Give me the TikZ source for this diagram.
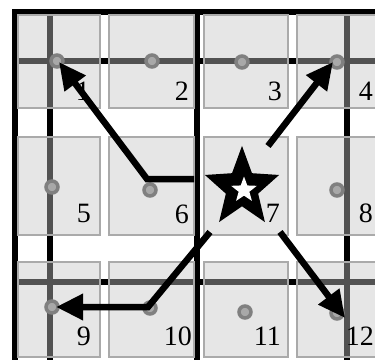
\documentclass[tikz,border=0pt]{standalone}
\usepackage{fontspec}
\setmainfont{Liberation Serif}
\usetikzlibrary{arrows.meta,shapes.geometric}
\definecolor{cellfill}{RGB}{197,197,197}
\definecolor{cellline}{RGB}{170,170,170}
\definecolor{dotgray}{RGB}{168,168,168}
\definecolor{dotring}{RGB}{128,128,128}
\begin{document}
\begin{tikzpicture}[x=1pt,y=-1pt,
  gridline/.style={line width=6pt, draw=black},
  cellbox/.style={fill=cellfill, fill opacity=0.42, draw=cellline, draw opacity=1, line width=1.5pt},
  dot/.style={circle, fill=dotgray, draw=dotring, line width=3.5pt, inner sep=0pt, minimum size=12pt},
  num/.style={font=\fontsize{28}{28}\selectfont, anchor=base east, inner sep=0pt},
  move/.style={line width=6.5pt, draw=black, -{Triangle[length=27pt,width=25pt]}},
]
\useasboundingbox (0,0) rectangle (375,359);
\clip (0,0) rectangle (375,359);
\fill[white] (0,0) rectangle (375,359);

% black guide lines (seen grey through the cells)
\draw[gridline] (12,12) -- (380,12);
\draw[gridline] (15,9) -- (15,365);
\draw[gridline] (50,12) -- (50,365);
\draw[gridline] (197,12) -- (197,365);
\draw[gridline] (347,12) -- (347,365);
\draw[gridline] (12,61) -- (380,61);
\draw[gridline] (12,282) -- (380,282);

% cells
\foreach \xa/\xb in {18/100, 109/194, 204/288, 297/390}{
  \foreach \ya/\yb in {15/108, 137/235, 262/357}{
    \path[cellbox] (\xa,\ya) rectangle (\xb,\yb);
  }
}

% dots
\node[dot] (d1) at (57,61) {};
\node[dot] (d2) at (152,61) {};
\node[dot] (d3) at (242,62) {};
\node[dot] (d4) at (337,62) {};
\node[dot] (d5) at (52,187) {};
\node[dot] (d6) at (150,190) {};
\node[dot] (d8) at (337,190) {};
\node[dot] (d9) at (52,307) {};
\node[dot] (d10) at (150,308) {};
\node[dot] (d11) at (245,312) {};
\node[dot] (d12) at (337,313) {};

% numbers
\node[num] (n1) at (90,100) {1};
\node[num] (n2) at (189,100) {2};
\node[num] (n3) at (282,100) {3};
\node[num] (n4) at (373,100) {4};
\node[num] (n5) at (91,222) {5};
\node[num] (n6) at (189,223) {6};
\node[num] (n7) at (280,222) {7};
\node[num] (n8) at (373,222) {8};
\node[num] (n9) at (91,345) {9};
\node[num] (n10) at (192,345) {10};
\node[num] (n11) at (281,345) {11};
\node[num] (n12) at (374,345) {12};

% agent star
\node[star, star points=5, star point ratio=2.3, fill=black, inner sep=0pt, minimum size=78pt, yscale=1.08, transform shape] (agent) at (242,188) {};
\node[star, star points=5, star point ratio=2.4, fill=white, inner sep=0pt, minimum size=27pt] (core) at (244,190) {};

% moves
\coordinate (s1) at (194,179);
\coordinate (k1) at (147,179);
\coordinate (t1) at (59,62);
\coordinate (s2) at (268,146);
\coordinate (t2) at (333,62);
\coordinate (s3) at (210,232);
\coordinate (k3) at (148,307);
\coordinate (t3) at (56,307);
\coordinate (s4) at (280,232);
\coordinate (t4) at (345,318);
\draw[move] (s1) -- (k1) -- (t1);
\draw[move] (s2) -- (t2);
\draw[move] (s3) -- (k3) -- (t3);
\draw[move] (s4) -- (t4);
\end{tikzpicture}
\end{document}
